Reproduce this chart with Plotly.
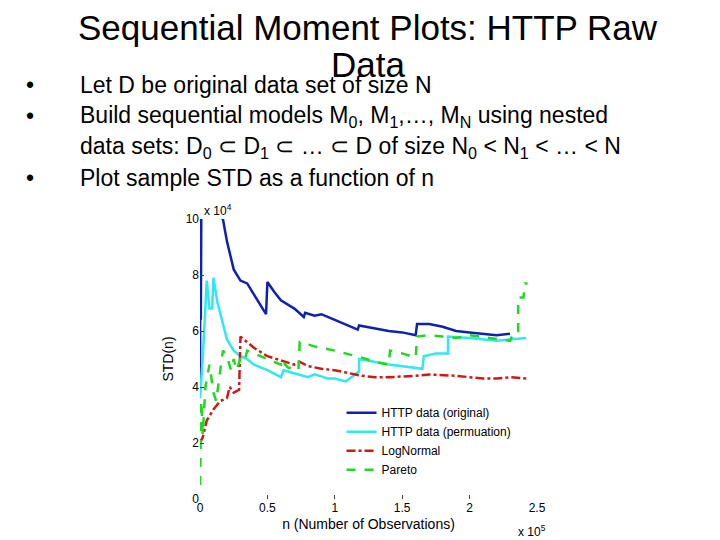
import plotly.graph_objects as go

# x in units of 1e5 observations, STD in units of 1e4
orig_x = [0, 0.003, 0.006, 0.01, 0.012, 0.17, 0.2, 0.25, 0.3, 0.35, 0.4, 0.45, 0.49, 0.5, 0.55, 0.6, 0.7, 0.77, 0.78,
          0.85, 0.9, 1.0, 1.1, 1.17, 1.18, 1.3, 1.4, 1.5, 1.6, 1.61, 1.7, 1.8, 1.9, 2.0, 2.1, 2.2, 2.3]
orig_y = [3.8, 10.5, 6.4, 10.5, 10.5, 10.0, 9.2, 8.2, 7.8, 7.7, 7.3, 6.9, 6.6, 7.75, 7.4, 7.1, 6.8, 6.5, 6.65,
          6.55, 6.6, 6.4, 6.2, 6.05, 6.2, 6.1, 6.0, 5.95, 5.85, 6.25, 6.25, 6.15, 6.0, 5.95, 5.9, 5.85, 5.9]

perm_x = [0, 0.02, 0.05, 0.07, 0.09, 0.1, 0.13, 0.17, 0.2, 0.25, 0.3, 0.35, 0.4, 0.5, 0.6, 0.62, 0.7, 0.8, 0.85,
          0.95, 1.0, 1.08, 1.18, 1.18, 1.4, 1.65, 1.66, 1.75, 1.84, 1.84, 2.0, 2.2, 2.3, 2.42]
perm_y = [3.6, 5.0, 7.8, 6.8, 6.8, 7.9, 7.0, 6.2, 5.7, 5.3, 5.1, 5.0, 4.8, 4.6, 4.35, 4.6, 4.5, 4.35, 4.45,
          4.3, 4.3, 4.2, 4.55, 5.0, 4.8, 4.65, 5.1, 5.2, 5.2, 5.8, 5.75, 5.65, 5.7, 5.75]

logn_x = [0, 0.02, 0.05, 0.1, 0.15, 0.2, 0.22, 0.25, 0.29, 0.3, 0.4, 0.5, 0.6, 0.7, 0.74, 0.8, 0.9, 1.0, 1.1,
          1.2, 1.3, 1.4, 1.6, 1.7, 1.9, 2.1, 2.2, 2.3, 2.42]
logn_y = [2.0, 2.2, 2.8, 3.2, 3.5, 3.6, 4.0, 3.8, 3.9, 5.8, 5.4, 5.1, 4.95, 4.8, 4.9, 4.75, 4.65, 4.6, 4.5,
          4.4, 4.35, 4.35, 4.4, 4.45, 4.4, 4.3, 4.3, 4.35, 4.3]

par_x = [0, 0.01, 0.02, 0.04, 0.07, 0.1, 0.12, 0.17, 0.2, 0.23, 0.25, 0.27, 0.3, 0.33, 0.35, 0.45, 0.55, 0.6,
         0.6, 0.65, 0.73, 0.74, 0.85, 1.0, 1.2, 1.3, 1.4, 1.41, 1.5, 1.6, 1.61, 1.7, 1.8, 1.9, 2.0, 2.2, 2.3,
         2.33, 2.36, 2.36, 2.4, 2.41, 2.43]
par_y = [0.5, 3.5, 2.3, 4.0, 4.8, 3.8, 3.5, 5.3, 5.1, 4.6, 5.0, 4.6, 5.0, 4.9, 5.3, 5.1, 4.9, 4.8,
         5.0, 4.7, 4.6, 5.6, 5.45, 5.3, 5.05, 4.9, 4.8, 5.3, 5.2, 5.05, 5.8, 5.85, 5.8, 5.75, 5.85, 5.7, 5.65,
         6.0, 6.0, 7.2, 7.2, 7.7, 7.7]

fig = go.Figure()
fig.add_trace(go.Scatter(x=orig_x, y=orig_y, mode='lines', name='HTTP data (original)',
                         line=dict(color='#1020b0', width=2.5)))
fig.add_trace(go.Scatter(x=perm_x, y=perm_y, mode='lines', name='HTTP data (permuation)',
                         line=dict(color='#30e8f0', width=2.5)))
fig.add_trace(go.Scatter(x=logn_x, y=logn_y, mode='lines', name='LogNormal',
                         line=dict(color='#d01818', width=2.5, dash='dashdot')))
fig.add_trace(go.Scatter(x=par_x, y=par_y, mode='lines', name='Pareto',
                         line=dict(color='#20d820', width=2.5, dash='dash')))

font = 'Liberation Sans, Arial, sans-serif'
fig.update_layout(
    width=720, height=540, paper_bgcolor='white', plot_bgcolor='white',
    margin=dict(l=192, r=191, t=211, b=49),
    font=dict(family=font, size=12, color='black'),
    showlegend=True,
    legend=dict(x=0.42, y=0.36, xanchor='left', yanchor='top', bgcolor='rgba(0,0,0,0)',
                font=dict(size=12), tracegroupgap=0, itemwidth=30),
)
fig.update_xaxes(range=[0, 2.5], tickvals=[0, 0.5, 1, 1.5, 2, 2.5], ticktext=['0', '0.5', '1', '1.5', '2', '2.5'],
                 showgrid=False, zeroline=False, showline=False, ticks='inside', ticklen=4, mirror=True,
                 title=dict(text='n (Number of Observations)', standoff=5))
fig.update_yaxes(range=[0, 10], tickvals=[0, 2, 4, 6, 8, 10], showgrid=False, zeroline=False, showline=False,
                 ticks='inside', ticklen=4, mirror=True, title=dict(text='STD(n)', standoff=8))


def px(x, y):
    # figure pixel -> plot-area paper coords
    return (x - 192) / 337, (491 - y) / 280


def note(x, y, text, size, anchor):
    ax, ay = px(x, y)
    fig.add_annotation(xref='paper', yref='paper', x=ax, y=ay, text=text, showarrow=False,
                       font=dict(size=size, family=font), xanchor=anchor, yanchor='middle')


note(360, 19, 'Sequential Moment Plots: HTTP Raw', 35, 'center')
note(360, 56, 'Data', 35, 'center')
for by in (77, 108, 170):
    note(16, by, '•', 23, 'left')
note(70, 77, 'Let D be original data set of size N', 23, 'left')
note(70, 108, 'Build sequential models M<sub>0</sub>, M<sub>1</sub>,…, M<sub>N</sub> using nested', 23, 'left')
note(70, 139, 'data sets: D<sub>0</sub> ⊂ D<sub>1</sub> ⊂ … ⊂ D of size N<sub>0</sub> &lt; N<sub>1</sub> &lt; … &lt; N', 23, 'left')
note(70, 170, 'Plot sample STD as a function of n', 23, 'left')
note(210, 202, 'x 10<sup>4</sup>', 12, 'center')
note(524, 523, 'x 10<sup>5</sup>', 12, 'center')

fig.write_html('out.html')
